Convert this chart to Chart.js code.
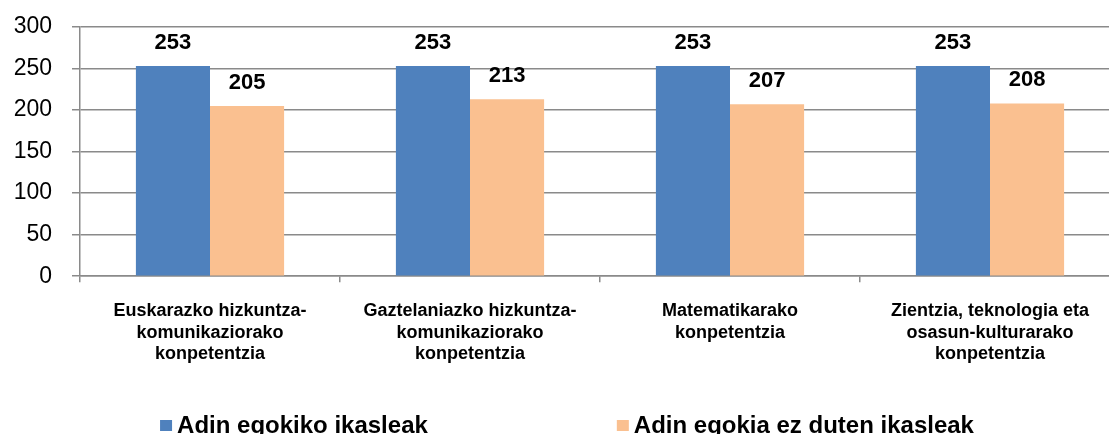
<!DOCTYPE html>
<html>
<head>
<meta charset="utf-8">
<script src="https://cdn.jsdelivr.net/npm/chart.js@4.4.1/dist/chart.umd.min.js"></script>
<style>
  html, body { margin: 0; padding: 0; overflow: hidden; background: #fff; }
  #wrap { width: 1120px; height: 434px; }
</style>
</head>
<body>
<div id="wrap"><canvas id="chart" width="1120" height="434"></canvas></div>
<script>
// categories (multi-line labels as in the source)
const categories = [
  ['Euskarazko hizkuntza-', 'komunikaziorako', 'konpetentzia'],
  ['Gaztelaniazko hizkuntza-', 'komunikaziorako', 'konpetentzia'],
  ['Matematikarako', 'konpetentzia'],
  ['Zientzia, teknologia eta', 'osasun-kulturarako', 'konpetentzia'],
];
const seriesNames = ['Adin egokiko ikasleak', 'Adin egokia ez duten ikasleak'];
const ageAppropriate = [253, 253, 253, 253];
const notAgeAppropriate = [205, 213, 207, 208];
const yTicks = [0, 50, 100, 150, 200, 250, 300];

const colors = ['#4F81BD', '#FAC090'];
const gridGray = '#8a8a8a';

// value labels above the bars
const valueLabels = {
  id: 'valueLabels',
  afterDatasetsDraw(chart) {
    const ctx = chart.ctx;
    ctx.save();
    ctx.font = 'bold 22px "Liberation Sans", Arial, sans-serif';
    ctx.fillStyle = '#000';
    ctx.textAlign = 'center';
    ctx.textBaseline = 'bottom';
    chart.data.datasets.forEach((ds, i) => {
      chart.getDatasetMeta(i).data.forEach((bar, j) => {
        ctx.fillText(String(ds.data[j]), bar.x, bar.y - 12);
      });
    });
    ctx.restore();
  },
};

// legend drawn at the bottom, spaced wide like the original
const bottomLegend = {
  id: 'bottomLegend',
  afterDraw(chart) {
    const ctx = chart.ctx;
    ctx.save();
    ctx.font = 'bold 24px "Liberation Sans", Arial, sans-serif';
    ctx.textBaseline = 'alphabetic';
    ctx.textAlign = 'left';
    const gap = 189;
    const items = chart.data.datasets.map(ds => ({
      label: ds.label,
      color: ds.backgroundColor,
      w: 17 + ctx.measureText(ds.label).width,
    }));
    const total = items.reduce((s, it) => s + it.w, 0) + gap * (items.length - 1);
    let x = 567 - total / 2;
    const baseY = chart.height;
    items.forEach(it => {
      ctx.fillStyle = it.color;
      ctx.fillRect(x, baseY - 14, 12, 11);
      ctx.fillStyle = '#000';
      ctx.fillText(it.label, x + 17, baseY - 1);
      x += it.w + gap;
    });
    ctx.restore();
  },
};

new Chart(document.getElementById('chart'), {
  type: 'bar',
  data: {
    labels: categories,
    datasets: [
      { label: seriesNames[0], data: ageAppropriate, backgroundColor: colors[0] },
      { label: seriesNames[1], data: notAgeAppropriate, backgroundColor: colors[1] },
    ],
  },
  options: {
    responsive: false,
    animation: false,
    layout: { padding: { top: 27, left: 0, right: 0, bottom: 51 } },
    datasets: {
      bar: { barPercentage: 1.0, categoryPercentage: 0.57 },
    },
    plugins: {
      legend: { display: false },
      tooltip: { enabled: false },
    },
    scales: {
      x: {
        grid: {
          offset: true,
          drawOnChartArea: false,
          drawTicks: true,
          tickLength: 6,
          color: gridGray,
          lineWidth: 1.5,
        },
        border: { display: true, color: gridGray, width: 1.5 },
        ticks: {
          color: '#000',
          padding: 18,
          maxRotation: 0,
          autoSkip: false,
          font: { family: '"Liberation Sans", Arial, sans-serif', size: 18, weight: 'bold', lineHeight: 1.2 },
        },
      },
      y: {
        min: 0,
        max: 300,
        afterFit(scale) {
          scale.width = 80;
          scale.paddingTop = 0;
          scale.paddingBottom = 0;
        },
        afterBuildTicks(scale) { scale.ticks = yTicks.map(v => ({ value: v })); },
        grid: {
          color: gridGray,
          lineWidth: 1.5,
          drawTicks: true,
          tickLength: 8,
        },
        border: { display: true, color: gridGray, width: 1.5 },
        ticks: {
          color: '#000',
          padding: 20,
          font: { family: '"Liberation Sans", Arial, sans-serif', size: 23 },
        },
      },
    },
  },
  plugins: [valueLabels, bottomLegend],
});
</script>
</body>
</html>
